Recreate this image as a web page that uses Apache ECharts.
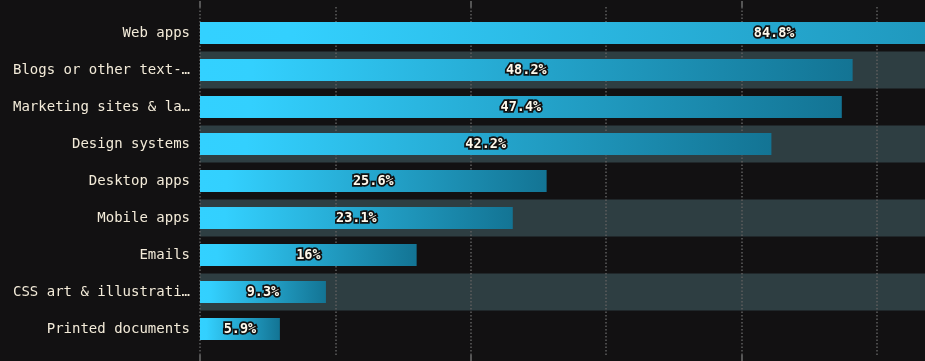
<!DOCTYPE html>
<html>
<head>
<meta charset="utf-8">
<script src="https://cdn.jsdelivr.net/npm/echarts@6/dist/echarts.min.js"></script>
<style>
html,body{margin:0;padding:0;background:#121112;}
#chart{width:925px;height:361px;}
</style>
</head>
<body>
<div id="chart"></div>
<script>
const categories = ["Web apps", "Blogs or other text-heavy sites", "Marketing sites & landing pages", "Design systems", "Desktop apps", "Mobile apps", "Emails", "CSS art & illustrations", "Printed documents"];
const values = [84.8, 48.2, 47.4, 42.2, 25.6, 23.1, 16, 9.3, 5.9];
const xMin = 0, xMax = 100;

const chart = echarts.init(document.getElementById('chart'), null, {renderer: 'canvas'});
const gridStyleLine = {color: '#5e5e5e', width: 1.5, type: [1.5, 2]};
const option = {
  backgroundColor: '#121112',
  animation: false,
  grid: [
    {left: 200, top: 14.5, width: 1354, height: 333, outerBoundsMode: 'none'},
    {left: 200, top: 7, width: 1354, height: 348, outerBoundsMode: 'none'}
  ],
  xAxis: [
    {gridIndex: 0, type: 'value', min: xMin, max: xMax, show: false},
    {gridIndex: 1, type: 'value', min: xMin, max: xMax, interval: 20, position: 'top', z: 1,
      axisLine: {show: false, onZero: false}, axisLabel: {show: false},
      axisTick: {show: true, inside: false, length: 6, lineStyle: {color: '#555', width: 2}},
      splitLine: {show: true, lineStyle: gridStyleLine},
      minorTick: {show: false, splitNumber: 2},
      minorSplitLine: {show: true, lineStyle: gridStyleLine}
    },
    {gridIndex: 1, type: 'value', min: xMin, max: xMax, interval: 20, position: 'bottom', z: 1,
      axisLine: {show: false, onZero: false}, axisLabel: {show: false},
      axisTick: {show: true, inside: false, length: 6, lineStyle: {color: '#555', width: 2}},
      splitLine: {show: false}
    }
  ],
  yAxis: [
    {gridIndex: 0, type: 'category', data: categories, inverse: true, z: 0,
      axisLine: {show: false}, axisTick: {show: false},
      axisLabel: {color: '#f3ebd9', fontFamily: 'DejaVu Sans Mono', fontSize: 14, margin: 10,
        width: 180, overflow: 'truncate', ellipsis: '…'},
      splitArea: {show: true, areaStyle: {color: ['rgba(0,0,0,0)', '#2e3e42']}},
      splitLine: {show: false}
    },
    {gridIndex: 1, type: 'value', show: false}
  ],
  series: [{
    type: 'bar',
    xAxisIndex: 0, yAxisIndex: 0,
    data: values,
    barWidth: 22,
    z: 3,
    itemStyle: {
      color: new echarts.graphic.LinearGradient(0, 0, 1, 0, [
        {offset: 0, color: '#33d1ff'},
        {offset: 0.08, color: '#33d0fe'},
        {offset: 1, color: '#137494'}
      ])
    },
    label: {
      show: true, position: 'inside',
      formatter: p => p.value + '%',
      color: '#fff9ec', fontFamily: 'DejaVu Sans Mono', fontWeight: 'bold', fontSize: 13.5,
      textBorderColor: '#111', textBorderWidth: 3.5
    }
  }]
};
chart.setOption(option);
</script>
</body>
</html>
